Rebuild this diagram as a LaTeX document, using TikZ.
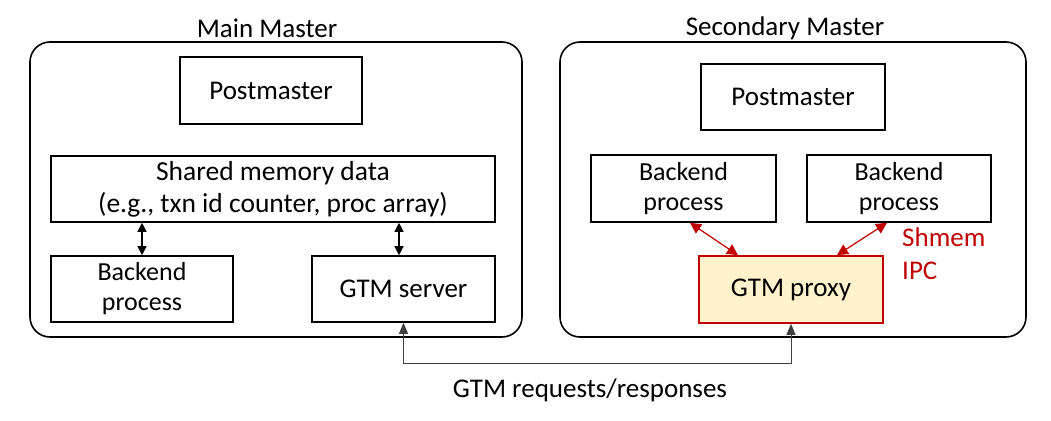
\documentclass[tikz,border=0pt]{standalone}
\usepackage{fontspec}
\setmainfont{Carlito}
\usetikzlibrary{arrows.meta,calc}
\definecolor{dred}{HTML}{C00000}
\definecolor{pale}{HTML}{FFF2CC}
\begin{document}
\begin{tikzpicture}[x=1pt,y=-1pt,
  box/.style={draw=black,line width=1.6pt,inner sep=0pt,align=center,font=\fontsize{26}{30}\selectfont},
  outer/.style={draw=black,line width=1.6pt,rounded corners=20pt,inner sep=0pt},
  title/.style={font=\fontsize{27}{32}\selectfont},
  dbl/.style={{Triangle[length=9pt,width=9pt]}-{Triangle[length=9pt,width=9pt]},line width=1.2pt},
  redarr/.style={{Triangle[length=11pt,width=11pt]}-{Triangle[length=11pt,width=11pt]},line width=1.2pt,draw=dred,fill=dred},
  link/.style={{Triangle[length=11pt,width=9pt]}-{Triangle[length=11pt,width=9pt]},line width=0.9pt,draw=black!75}
]
\useasboundingbox (0,0) rectangle (1051,420);
% left panel
\node[outer,minimum width=492pt,minimum height=295pt] (mm) at (276,189.5) {};
\node[title] (mmt) at (267,28) {Main Master};
\node[box,minimum width=182pt,minimum height=67pt,font=\fontsize{27}{32}\selectfont] (pm1) at (271,90.5) {Postmaster};
\node[box,minimum width=444pt,minimum height=66pt,font=\fontsize{27.5}{32}\selectfont] (shm) at (273,189) {Shared memory data\\(e.g., txn id counter, proc array)};
\node[box,minimum width=182pt,minimum height=66pt] (be1) at (142,289) {Backend\\process};
\node[box,minimum width=183pt,minimum height=66pt,font=\fontsize{27}{32}\selectfont] (gtms) at (403.5,289) {GTM server};
\coordinate (xr) at (399,0);
\draw[dbl] (be1.north |- shm.south) -- (be1.north);
\draw[dbl] (shm.south -| xr) -- (gtms.north -| xr);
% right panel
\node[outer,minimum width=466pt,minimum height=295pt] (sm) at (793,189.5) {};
\node[title] (smt) at (785,28) {Secondary Master};
\node[box,minimum width=184pt,minimum height=66pt,font=\fontsize{27}{32}\selectfont] (pm2) at (793,97) {Postmaster};
\node[box,minimum width=185pt,minimum height=67pt] (be2) at (683.5,188.5) {Backend\\process};
\node[box,minimum width=184pt,minimum height=67pt] (be3) at (899,188.5) {Backend\\process};
\node[box,draw=dred,fill=pale,minimum width=184pt,minimum height=67pt,font=\fontsize{27}{32}\selectfont] (gp) at (791,289.5) {GTM proxy};
\coordinate (a1) at (690,0);
\coordinate (a2) at (738,0);
\coordinate (a3) at (887,0);
\coordinate (a4) at (837,0);
\draw[redarr] (be2.south -| a1) -- (gp.north -| a2);
\draw[redarr] (be3.south -| a3) -- (gp.north -| a4);
\node[anchor=north west,align=left,text=dred,inner sep=0pt,font=\fontsize{27}{33}\selectfont] (ipc) at (902,228) {Shmem\\IPC};
% link
\coordinate (yl) at (0,363);
\draw[link] (gtms.south) -- (gtms.south |- yl) -- (gp.south |- yl) -- (gp.south);
\node[font=\fontsize{27}{32}\selectfont] (lbl) at (590,390) {GTM requests/responses};
\end{tikzpicture}
\end{document}
